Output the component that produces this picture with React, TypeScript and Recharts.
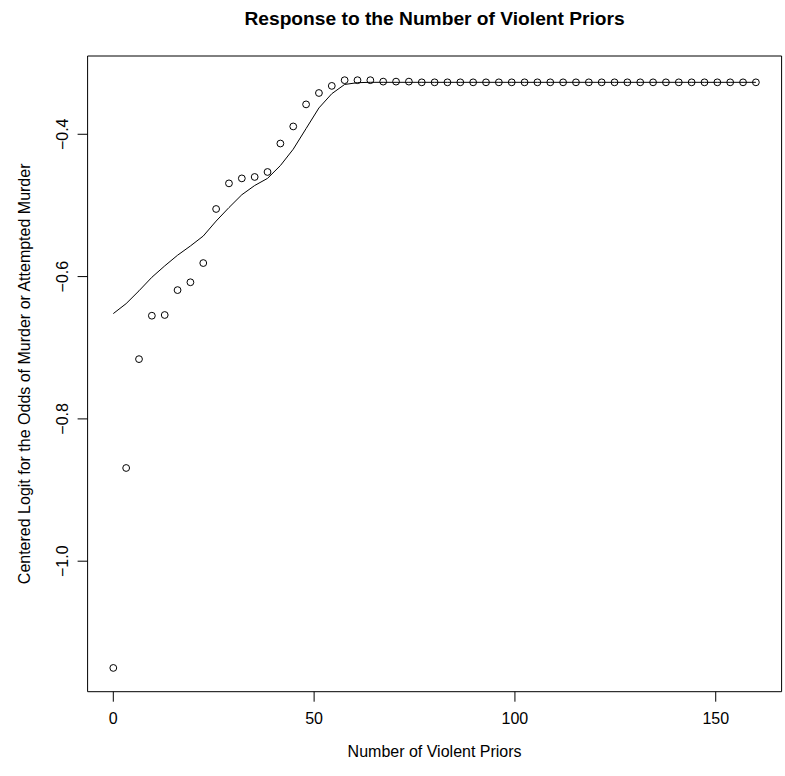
import { ComposedChart, Line, Scatter, XAxis, YAxis, ReferenceArea, Label } from "recharts"

// number of violent priors (x grid shared by points and fitted curve)
const priors = [
  0, 3.2, 6.4, 9.6, 12.8, 16, 19.2, 22.4, 25.6, 28.8, 32, 35.2, 38.4, 41.6, 44.8, 48, 51.2, 54.4, 57.6,
  60.8, 64, 67.2, 70.4, 73.6, 76.8, 80, 83.2, 86.4, 89.6, 92.8, 96, 99.2, 102.4, 105.6, 108.8, 112,
  115.2, 118.4, 121.6, 124.8, 128, 131.2, 134.4, 137.6, 140.8, 144, 147.2, 150.4, 153.6, 156.8, 160,
]

// observed centered logits (open circles)
const observed = [
  -1.15, -0.869, -0.716, -0.655, -0.654, -0.619, -0.608, -0.581, -0.505, -0.469, -0.462, -0.46, -0.453,
  -0.413, -0.389, -0.358, -0.342, -0.332, -0.324, -0.324, -0.324, -0.326, -0.326, -0.326, -0.327,
  -0.327, -0.327, -0.327, -0.327, -0.327, -0.327, -0.327, -0.327, -0.327, -0.327, -0.327, -0.327,
  -0.327, -0.327, -0.327, -0.327, -0.327, -0.327, -0.327, -0.327, -0.327, -0.327, -0.327, -0.327,
  -0.327, -0.327,
]

// smoothed fit (solid line)
const fitted = [
  -0.652, -0.638, -0.62, -0.601, -0.585, -0.57, -0.557, -0.543, -0.522, -0.503, -0.485, -0.472, -0.462,
  -0.444, -0.421, -0.392, -0.363, -0.343, -0.33, -0.3275, -0.327, -0.327, -0.327, -0.327, -0.327,
  -0.327, -0.327, -0.327, -0.327, -0.327, -0.327, -0.327, -0.327, -0.327, -0.327, -0.327, -0.327,
  -0.327, -0.327, -0.327, -0.327, -0.327, -0.327, -0.327, -0.327, -0.327, -0.327, -0.327, -0.327,
  -0.327, -0.327,
]

const xTicks = [0, 50, 100, 150]
const yTicks = [-1.0, -0.8, -0.6, -0.4]

const X_DOMAIN: [number, number] = [-6.4, 166.4]
const Y_DOMAIN: [number, number] = [-1.1834, -0.29]

const font = '"Liberation Sans", Arial, Helvetica, sans-serif'
const fmt = (v: number) => v.toFixed(1).replace("-", "\u2212")

const data = priors.map((x, i) => ({ x, observed: observed[i], fitted: fitted[i] }))

function YTick({ x, y, payload }: any) {
  return (
    <text
      x={x}
      y={y}
      transform={`rotate(-90 ${x} ${y})`}
      textAnchor="middle"
      fontSize={16}
      fontFamily={font}
      fill="#000"
    >
      {fmt(payload.value)}
    </text>
  )
}

const OpenCircle = (p: any) => (
  <circle cx={p.cx} cy={p.cy} r={3.4} fill="none" stroke="#000" strokeWidth={1} />
)

const XTitle = ({ viewBox }: any) => (
  <text
    x={viewBox.x + viewBox.width / 2}
    y={viewBox.y + 65.6}
    textAnchor="middle"
    fontSize={16}
    fontFamily={font}
    fill="#000"
  >
    Number of Violent Priors
  </text>
)

const YTitle = ({ viewBox }: any) => {
  const x = viewBox.x + viewBox.width - 57.6
  const y = viewBox.y + viewBox.height / 2
  return (
    <text
      x={x}
      y={y}
      transform={`rotate(-90 ${x} ${y})`}
      textAnchor="middle"
      fontSize={16}
      fontFamily={font}
      fill="#000"
    >
      Centered Logit for the Odds of Murder or Attempted Murder
    </text>
  )
}

const MainTitle = ({ viewBox }: any) => (
  <text
    x={viewBox.x + viewBox.width / 2}
    y={viewBox.y - 31}
    textAnchor="middle"
    fontSize={19.2}
    fontWeight="bold"
    fontFamily={font}
    fill="#000"
  >
    Response to the Number of Violent Priors
  </text>
)

export default function App() {
  return (
    <div style={{ position: "absolute", left: 0, top: 0, width: 785, height: 776, background: "#fff" }}>
      <ComposedChart
        width={785}
        height={776}
        data={data}
        margin={{ top: 56, right: 3.4, bottom: 0, left: 0 }}
      >
        <XAxis
          dataKey="x"
          type="number"
          domain={X_DOMAIN}
          ticks={xTicks}
          height={84.3}
          axisLine={false}
          tickLine={{ stroke: "#000" }}
          tickSize={10}
          tickMargin={11}
          tick={{ fill: "#000", fontSize: 16, fontFamily: font }}
          interval={0}
        >
          <Label content={XTitle} />
        </XAxis>
        <YAxis
          type="number"
          domain={Y_DOMAIN}
          ticks={yTicks}
          width={87.6}
          axisLine={false}
          tickLine={{ stroke: "#000" }}
          tickSize={10}
          tickMargin={10}
          tick={YTick}
          interval={0}
        >
          <Label content={YTitle} />
        </YAxis>
        <ReferenceArea
          x1={X_DOMAIN[0]}
          x2={X_DOMAIN[1]}
          y1={Y_DOMAIN[0]}
          y2={Y_DOMAIN[1]}
          fill="none"
          stroke="#000"
          strokeWidth={1}
          ifOverflow="visible"
          label={MainTitle}
        />
        <Line
          type="linear"
          dataKey="fitted"
          stroke="#000"
          strokeWidth={1}
          dot={false}
          activeDot={false}
          isAnimationActive={false}
        />
        <Scatter dataKey="observed" shape={OpenCircle} isAnimationActive={false} />
      </ComposedChart>
    </div>
  )
}
